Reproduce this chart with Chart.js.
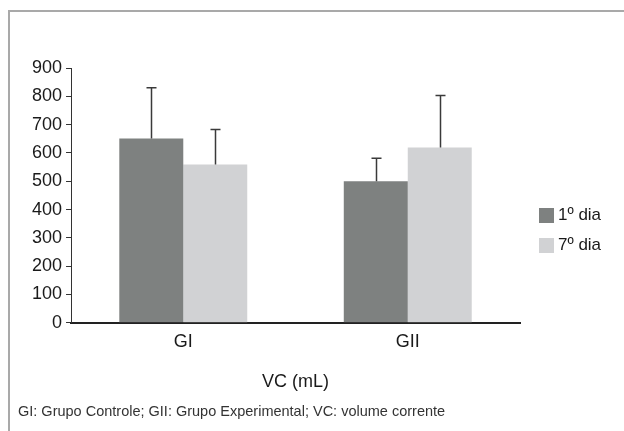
<!DOCTYPE html>
<html>
<head>
<meta charset="utf-8">
<script src="https://cdn.jsdelivr.net/npm/chart.js@4.4.1/dist/chart.umd.min.js"></script>
<style>
  html, body { margin: 0; padding: 0; background: #fff; }
  body { width: 624px; height: 431px; position: relative; overflow: hidden;
         font-family: "Liberation Sans", Arial, sans-serif; color: #1a1a1a; }
  .frame { position: absolute; left: 8px; top: 10px; width: 700px; height: 500px;
           border-left: 2px solid #a9a9a9; border-top: 2px solid #a9a9a9; }
  #wrap { position: absolute; left: 0; top: 0; width: 624px; height: 431px; }
  .legend { position: absolute; left: 539px; top: 200px; font-size: 17px; }
  .legend div { display: flex; align-items: center; height: 30px; }
  .legend span.sw { display: inline-block; width: 15px; height: 15px; margin-right: 4px; }
  .caption { position: absolute; left: 18px; top: 403px; font-size: 14.5px; color: #333; white-space: nowrap; }
</style>
</head>
<body>
<div class="frame"></div>
<div id="wrap"><canvas id="c" width="624" height="431"></canvas></div>
<div class="legend" id="legend"></div>
<div class="caption">GI: Grupo Controle; GII: Grupo Experimental; VC: volume corrente</div>
<script>
// VC (mL) por grupo, média + desvio (só a barra de cima)
const categories = ["GI", "GII"];
const dia1 = [651, 500];
const dia7 = [559, 619];
const sd1 = [179, 81];
const sd7 = [124, 184];
const yTicks = [0, 100, 200, 300, 400, 500, 600, 700, 800, 900];

const DARK = "#7e8180", LIGHT = "#d1d2d4";
const series = [
  { label: "1º dia", data: dia1, sd: sd1, color: DARK },
  { label: "7º dia", data: dia7, sd: sd7, color: LIGHT },
];

// upward-only error bars, drawn from the y scale
const errorBars = {
  id: "errorBars",
  afterDatasetsDraw(chart) {
    const { ctx, scales: { y } } = chart;
    ctx.save();
    ctx.strokeStyle = "#3a3a3a";
    ctx.lineWidth = 1.5;
    chart.data.datasets.forEach((ds, i) => {
      chart.getDatasetMeta(i).data.forEach((bar, j) => {
        const top = y.getPixelForValue(ds.data[j] + ds.sd[j]);
        const x = Math.round(bar.x) + 0.5;
        ctx.beginPath();
        ctx.moveTo(x, bar.y);
        ctx.lineTo(x, top);
        ctx.moveTo(x - 5, top);
        ctx.lineTo(x + 5, top);
        ctx.stroke();
      });
    });
    ctx.restore();
  },
};

const font = { family: "'Liberation Sans', Arial, sans-serif", size: 18 };

new Chart(document.getElementById("c"), {
  type: "bar",
  data: {
    labels: categories,
    datasets: series.map(s => ({
      label: s.label, data: s.data, sd: s.sd,
      backgroundColor: s.color, borderWidth: 0,
      barPercentage: 1, categoryPercentage: 0.57,
    })),
  },
  options: {
    responsive: false, animation: false,
    layout: { padding: { left: 28, right: 104, top: 68, bottom: 38 } },
    plugins: { legend: { display: false }, tooltip: { enabled: false } },
    scales: {
      x: {
        grid: { display: false },
        border: { display: true, color: "#222", width: 2 },
        ticks: { color: "#1a1a1a", font, padding: 0 },
        title: { display: true, text: "VC (mL)", color: "#1a1a1a", font, padding: { top: 19, bottom: 0 } },
      },
      y: {
        min: 0, max: 900,
        afterBuildTicks: ax => { ax.ticks = yTicks.map(v => ({ value: v })); },
        grid: { drawOnChartArea: false, drawTicks: true, tickLength: 5, color: "#333" },
        border: { display: true, color: "#333", width: 1 },
        ticks: { color: "#1a1a1a", font, padding: 4 },
      },
    },
  },
  plugins: [errorBars],
});

document.getElementById("legend").innerHTML = series
  .map(s => `<div><span class="sw" style="background:${s.color}"></span>${s.label}</div>`).join("");
</script>
</body>
</html>
